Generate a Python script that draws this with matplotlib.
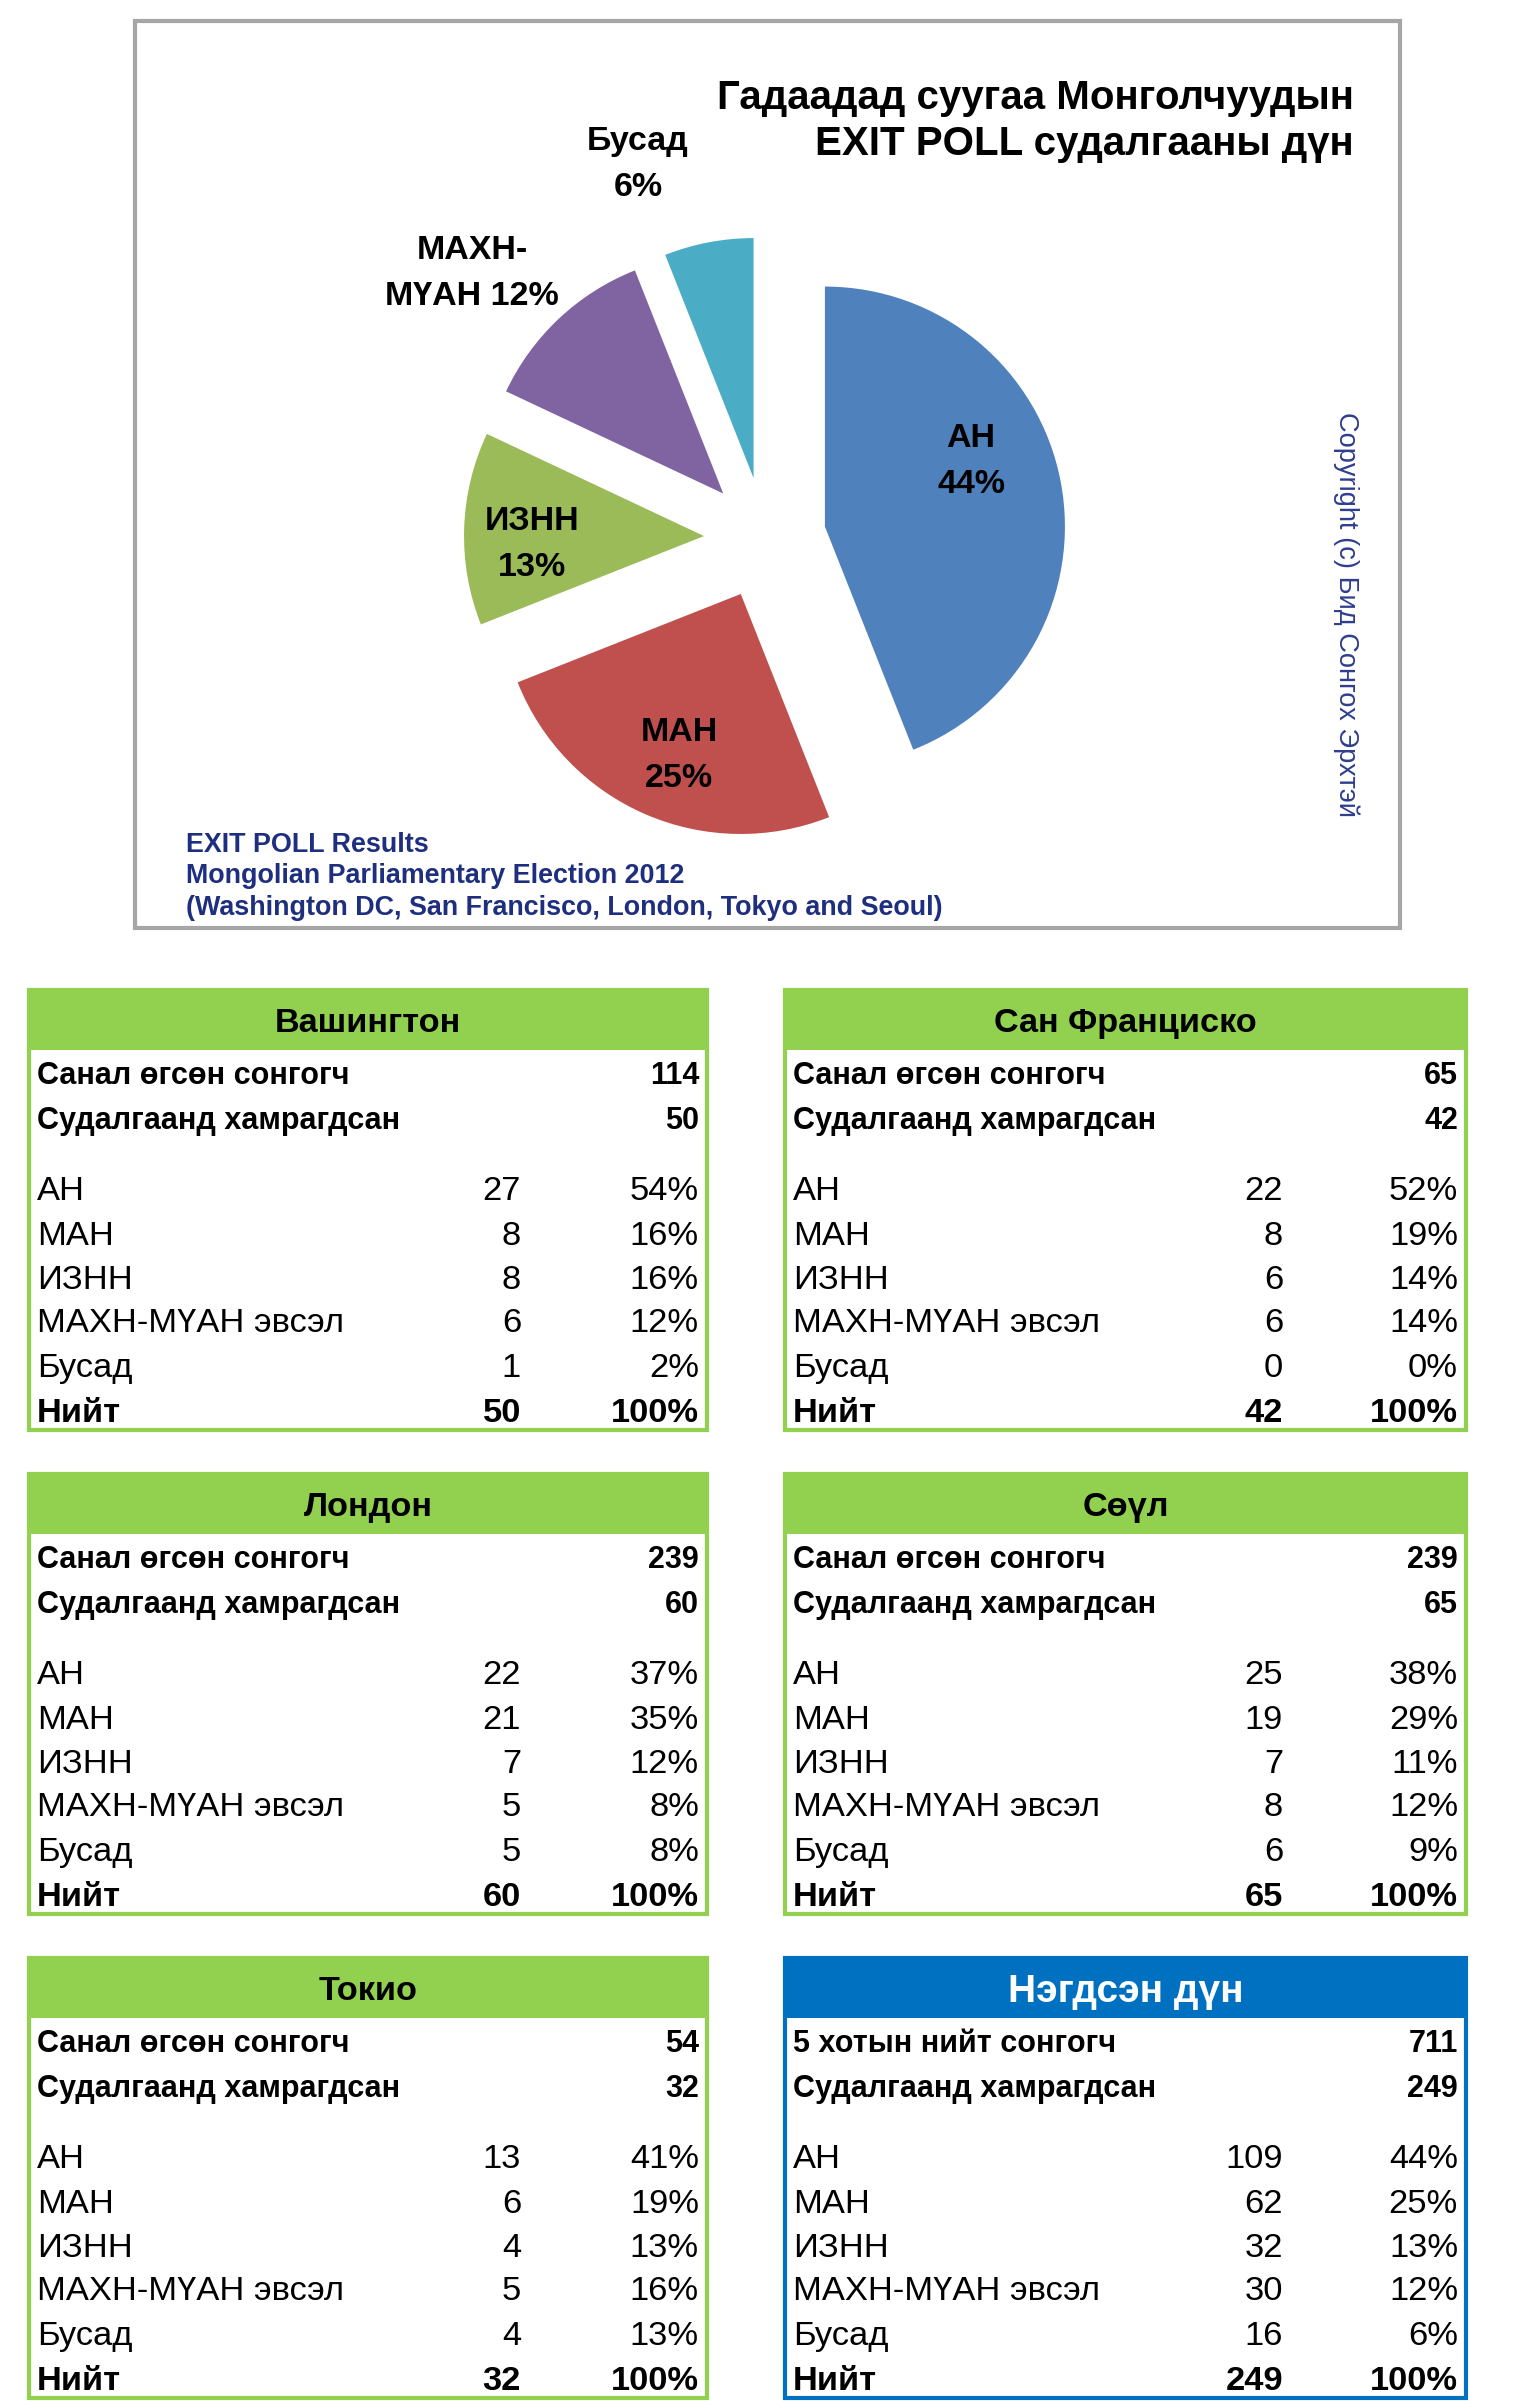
import matplotlib
matplotlib.use('Agg')
import matplotlib.pyplot as plt
from matplotlib.patches import Rectangle

plt.rcParams['font.family'] = ['Liberation Sans Narrow', 'Liberation Sans', 'DejaVu Sans']

W, H = 1514, 2408

# ---------------- data ----------------
pie_parties = ['АН', 'МАН', 'ИЗНН', 'МАХН-МҮАН', 'Бусад']
pie_shares = [44, 25, 13, 12, 6]
pie_colors = ['#4F81BD', '#C0504D', '#9BBB59', '#8064A2', '#4BACC6']

title_lines = ['Гадаадад суугаа Монголчуудын', 'EXIT POLL судалгааны дүн']
footer_lines = ['EXIT POLL Results', 'Mongolian Parliamentary Election 2012',
                '(Washington DC, San Francisco, London, Tokyo and Seoul)']
copyright_text = 'Copyright (c) Бид Сонгох Эрхтэй'

cities = ['Вашингтон', 'Сан Франциско', 'Лондон', 'Сөүл', 'Токио', 'Нэгдсэн дүн']
voter_labels = ['Санал өгсөн сонгогч'] * 5 + ['5 хотын нийт сонгогч']
surveyed_label = 'Судалгаанд хамрагдсан'
voters = [114, 65, 239, 239, 54, 711]
surveyed = [50, 42, 60, 65, 32, 249]
party_rows = ['АН', 'МАН', 'ИЗНН', 'МАХН-МҮАН эвсэл', 'Бусад']
total_label = 'Нийт'

counts_washington = [27, 8, 8, 6, 1]
counts_sanfrancisco = [22, 8, 6, 6, 0]
counts_london = [22, 21, 7, 5, 5]
counts_seoul = [25, 19, 7, 8, 6]
counts_tokyo = [13, 6, 4, 5, 4]
counts_total = [109, 62, 32, 30, 16]

pct_washington = [54, 16, 16, 12, 2]
pct_sanfrancisco = [52, 19, 14, 14, 0]
pct_london = [37, 35, 12, 8, 8]
pct_seoul = [38, 29, 11, 12, 9]
pct_tokyo = [41, 19, 13, 16, 13]
pct_total = [44, 25, 13, 12, 6]
total_pct = 100

all_counts = [counts_washington, counts_sanfrancisco, counts_london,
              counts_seoul, counts_tokyo, counts_total]
all_pcts = [pct_washington, pct_sanfrancisco, pct_london,
            pct_seoul, pct_tokyo, pct_total]

# ---------------- figure ----------------
fig = plt.figure(figsize=(W / 100, H / 100), dpi=100)
ax = fig.add_axes([0, 0, 1, 1])

PX = 100 / 72.0


def Y(y):
    return H - y


def txt(x, yc, s, size, weight='normal', ha='left', color='black', **kw):
    # yc: vertical centre of capitals (screen coords, y down)
    base = yc + 0.358 * size * PX
    ax.text(x, Y(base), s, fontsize=size, fontweight=weight, ha=ha,
            va='baseline', color=color, **kw)


# chart frame
ax.add_patch(Rectangle((135, Y(928)), 1265, 907, fill=False,
                       edgecolor='#A6A6A6', linewidth=3))

# pie
pie_center = (765, Y(538))
pie_radius = 240
wedges, _ = ax.pie(pie_shares, colors=pie_colors, startangle=90,
                   counterclock=False, explode=[61] * len(pie_shares),
                   radius=pie_radius, center=pie_center,
                   wedgeprops=dict(linewidth=0))

pie_label_pos = [(971, 458), (679, 752), (532, 541), (472, 270), (638, 161)]
for name, share, (lx, ly) in zip(pie_parties, pie_shares, pie_label_pos):
    if '-' in name:
        a, b = name.split('-')
        lines = [a + '-', f'{b} {share}%']
    else:
        lines = [name, f'{share}%']
    txt(lx, ly - 23, lines[0], 24.5, weight='bold', ha='center')
    txt(lx, ly + 23, lines[1], 24.5, weight='bold', ha='center')

# title
txt(1354, 95, title_lines[0], 29, weight='bold', ha='right')
txt(1354, 141, title_lines[1], 29, weight='bold', ha='right')

# footer
for i, line in enumerate(footer_lines):
    txt(186, 842 + 31.5 * i, line, 19.4, weight='bold', color='#1F2F7F')

# copyright
ax.text(1346, Y(615), copyright_text, rotation=-90, fontsize=19.6,
        family=['Liberation Sans', 'DejaVu Sans'], color='#2E3D8E',
        ha='center', va='center')

# ---------------- tables ----------------
col_x = [(29, 707), (785, 1466)]
count_off = [492, 498]
row_top = [990, 1474, 1958]
tbl_h = 440
hdr_h = 60
row_off = [83, 128, 198, 243, 287, 330, 375, 420]

for k, city in enumerate(cities):
    x0, x1 = col_x[k % 2]
    top = row_top[k // 2]
    is_total = (k == 5)
    col = '#0070C0' if is_total else '#92D050'
    ax.add_patch(Rectangle((x0, Y(top + hdr_h)), x1 - x0, hdr_h,
                           facecolor=col, edgecolor='none'))
    ax.add_patch(Rectangle((x0, Y(top + tbl_h)), x1 - x0, tbl_h,
                           fill=False, edgecolor=col, linewidth=3))
    txt((x0 + x1) / 2, top + 30, city, 28 if is_total else 24.7, weight='bold',
        ha='center', color='white' if is_total else 'black')

    lx = x0 + 8
    cx = x0 + count_off[k % 2]
    px = x1 - 8
    txt(lx, top + row_off[0], voter_labels[k], 22, weight='bold')
    txt(px, top + row_off[0], str(voters[k]), 22, weight='bold', ha='right')
    txt(lx, top + row_off[1], surveyed_label, 22, weight='bold')
    txt(px, top + row_off[1], str(surveyed[k]), 22, weight='bold', ha='right')
    for j, party in enumerate(party_rows):
        yy = top + row_off[2 + j]
        txt(lx, yy, party, 24.8)
        txt(cx, yy, str(all_counts[k][j]), 24.8, ha='right')
        txt(px, yy, f'{all_pcts[k][j]}%', 24.8, ha='right')
    yy = top + row_off[7]
    txt(lx, yy, total_label, 24.8, weight='bold')
    txt(cx, yy, str(sum(all_counts[k])), 24.8, weight='bold', ha='right')
    txt(px, yy, f'{total_pct}%', 24.8, weight='bold', ha='right')

ax.set_xlim(0, W)
ax.set_ylim(0, H)
ax.set_aspect('auto')
ax.axis('off')

fig.savefig('out.png', dpi=100, facecolor='white')
